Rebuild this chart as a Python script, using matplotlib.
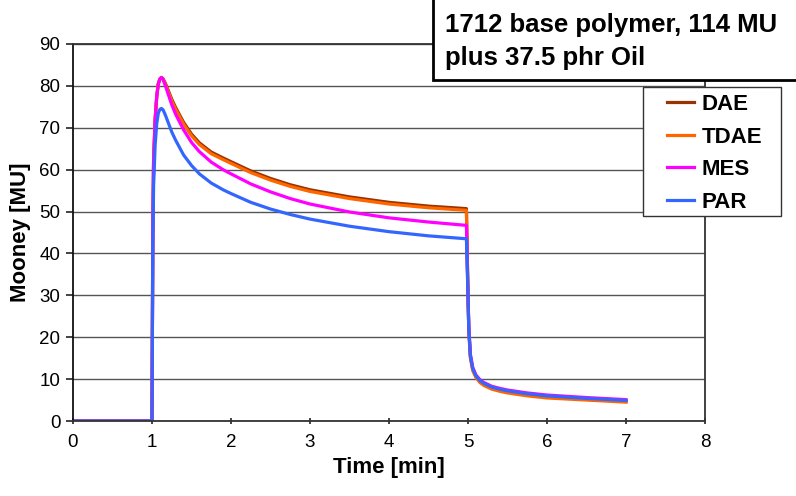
import matplotlib
matplotlib.use("Agg")
import matplotlib.pyplot as plt
from matplotlib.patches import Rectangle

plt.rcParams['font.family'] = ['Liberation Sans', 'DejaVu Sans']

time = [0, 0.99, 1.0, 1.01, 1.02, 1.04, 1.06, 1.08, 1.10, 1.12,
        1.14, 1.17, 1.2, 1.25, 1.3, 1.4, 1.5, 1.6, 1.75, 1.9,
        2.0, 2.25, 2.5, 2.75, 3.0, 3.5, 4.0, 4.5, 4.98, 5.0,
        5.01, 5.03, 5.06, 5.1, 5.15, 5.2, 5.3, 5.4, 5.5, 5.75,
        6.0, 6.5, 7.0]

dae = [0, 0, 0, 45, 62, 72, 77.5, 80.5, 81.6, 82.0,
       81.7, 80.6, 79.2, 76.8, 74.8, 71.3, 68.5, 66.4, 64.2, 62.8,
       61.9, 59.7, 57.9, 56.4, 55.2, 53.5, 52.2, 51.3, 50.7, 30,
       22, 15.5, 12.4, 10.7, 9.5, 8.8, 7.9, 7.4, 7.0, 6.3,
       5.8, 5.2, 4.7]

tdae = [0, 0, 0, 45, 62, 72, 77.5, 80.5, 81.6, 82.0,
        81.6, 80.4, 78.9, 76.4, 74.4, 70.9, 68.1, 66.0, 63.8, 62.4,
        61.5, 59.3, 57.5, 56.0, 54.8, 53.1, 51.8, 50.9, 50.3, 30,
        21.5, 15.0, 12.0, 10.4, 9.2, 8.5, 7.6, 7.1, 6.7, 6.0,
        5.5, 5.0, 4.5]

mes = [0, 0, 0, 45, 62, 72, 77.5, 80.5, 81.7, 82.0,
       81.5, 80.0, 78.3, 75.5, 73.2, 69.5, 66.5, 64.3, 61.8, 60.0,
       59.0, 56.6, 54.7, 53.1, 51.8, 49.9, 48.5, 47.5, 46.7, 30,
       22.5, 16.0, 12.8, 11.0, 9.9, 9.2, 8.3, 7.8, 7.4, 6.7,
       6.2, 5.6, 5.1]

par = [0, 0, 0, 40, 56, 66, 71, 73.5, 74.4, 74.6,
       74.3, 73.0, 71.5, 69.0, 67.0, 63.5, 61.0, 59.0, 56.8, 55.2,
       54.3, 52.2, 50.6, 49.3, 48.2, 46.5, 45.2, 44.2, 43.5, 30,
       22, 15.5, 12.5, 10.8, 9.7, 9.0, 8.1, 7.6, 7.2, 6.5,
       6.0, 5.4, 4.9]

series = [("DAE", dae, "#993300"), ("TDAE", tdae, "#FF6600"),
          ("MES", mes, "#FF00FF"), ("PAR", par, "#3366FF")]

xticks = [0, 1, 2, 3, 4, 5, 6, 7, 8]
yticks = [0, 10, 20, 30, 40, 50, 60, 70, 80, 90]

W, H = 796, 496
fig = plt.figure(figsize=(W / 100, H / 100), dpi=100)
ax = fig.add_axes([73 / W, 1 - 421 / H, (705 - 73) / W, (421 - 44) / H])

for name, vals, col in series:
    ax.plot(time, vals, color=col, lw=2.3, label=name, solid_joinstyle='round')

ax.set_xlim(0, 8)
ax.set_ylim(0, 90)
ax.set_xticks(xticks)
ax.set_yticks(yticks)
ax.grid(axis='y', color='#555555', lw=1.0)
ax.set_axisbelow(True)
for s in ax.spines.values():
    s.set_color('#333333')
    s.set_linewidth(1.3)
ax.spines['left'].set_color('#111111')
ax.tick_params(axis='both', labelsize=13.5, colors='#222222', length=5, width=1.2)
ax.tick_params(axis='x', direction='inout', pad=7)
ax.tick_params(axis='y', pad=4)
for lab in ax.get_xticklabels() + ax.get_yticklabels():
    lab.set_color('black')
ax.set_xlabel("Time [min]", fontsize=16, fontweight='bold', labelpad=4)
ax.set_ylabel("Mooney [MU]", fontsize=16, fontweight='bold', labelpad=6)

# legend frame
lframe = Rectangle((643 / W, 1 - 216 / H), (781 - 643) / W, (216 - 87) / H,
                   transform=fig.transFigure, facecolor='white', edgecolor='#333333',
                   lw=1.0, zorder=4)
fig.add_artist(lframe)
leg = fig.legend(loc='upper left', bbox_to_anchor=(667 / W, 1 - 94 / H),
                 frameon=False, fontsize=16, handlelength=1.2,
                 handletextpad=0.35, labelspacing=0.52, borderpad=0, borderaxespad=0)
leg.set_zorder(5)
for t in leg.get_texts():
    t.set_fontweight('bold')

box = Rectangle((433 / W, 1 - 80 / H), (W - 433 + 5) / W, 85 / H, transform=fig.transFigure,
                facecolor='white', edgecolor='black', lw=2, zorder=5)
fig.add_artist(box)
fig.text(445 / W, 1 - 25 / H, "1712 base polymer, 114 MU", fontsize=18.5, fontweight='bold',
         va='center', ha='left', zorder=6)
fig.text(445 / W, 1 - 58 / H, "plus 37.5 phr Oil", fontsize=18.5, fontweight='bold',
         va='center', ha='left', zorder=6)

fig.savefig("out.png", dpi=100)
